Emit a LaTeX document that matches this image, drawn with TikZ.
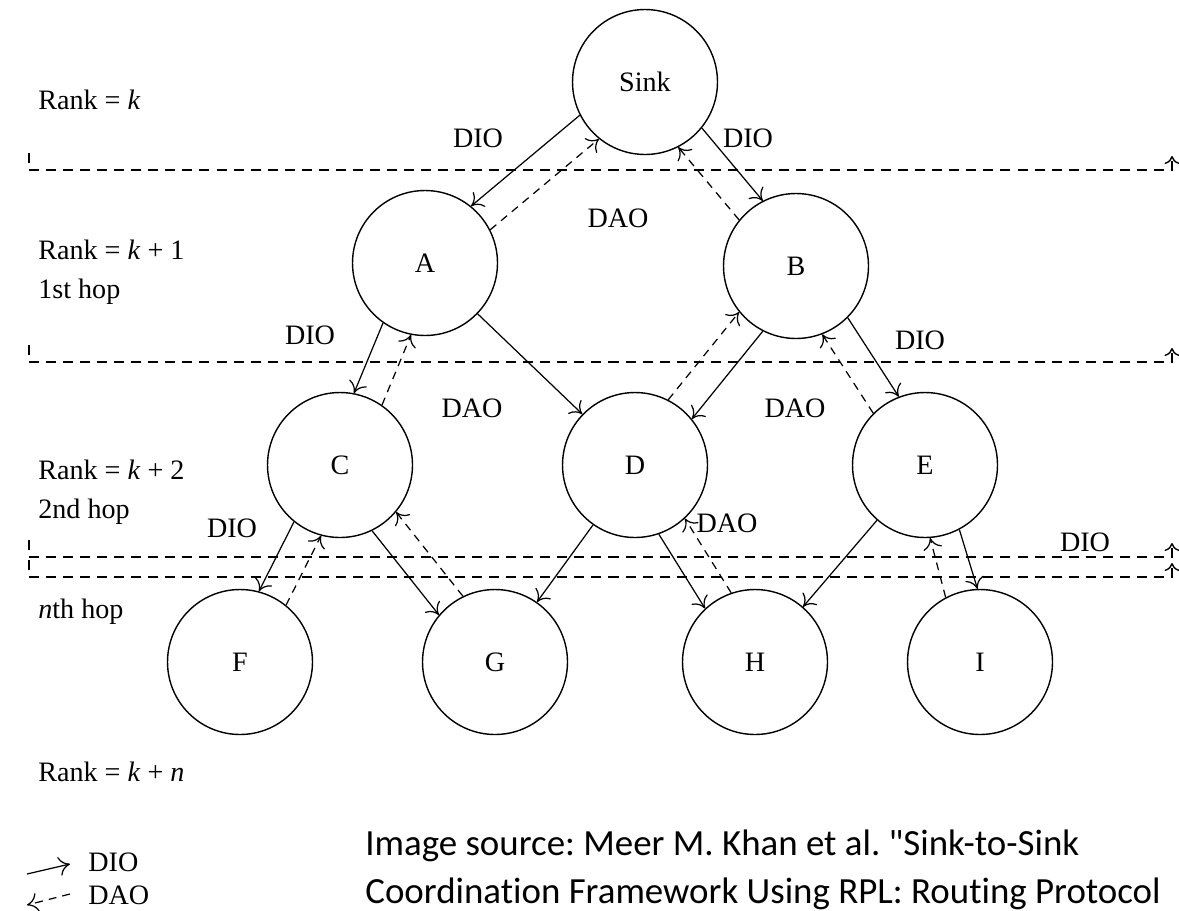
\documentclass[tikz,border=0pt]{standalone}
\usepackage{fontspec}
\setmainfont{Liberation Serif}
\newfontfamily\srcfont[Ligatures=NoCommon]{Carlito}
\usetikzlibrary{arrows.meta,positioning}
\newcommand\lblsize{\fontsize{16}{22}\selectfont}
\tikzset{
  >={To[length=2.2mm,width=3.8mm]},
  nd/.style   ={circle,draw,line width=0.8pt,minimum size=2.9cm,inner sep=0pt,font=\lblsize},
  dio/.style  ={->,line width=0.7pt},
  dao/.style  ={->,line width=0.7pt,dash pattern=on 4.5pt off 3.5pt},
  rline/.style={-{To[length=1.6mm,width=3mm]},line width=0.8pt,dash pattern=on 5.7pt off 4pt},
  lbl/.style  ={font=\lblsize,inner sep=0pt},
  rank/.style ={lbl,anchor=west,align=left},
  src/.style  ={font=\srcfont\fontsize{21}{26}\selectfont\frenchspacing,anchor=base west,inner sep=0pt},
}

\begin{document}
\begin{tikzpicture}[x=0.02cm,y=0.02cm]
\useasboundingbox (0,0) rectangle (1179,-910);
% rank separators
\draw[rline] (29,-153) |- (1172,-170) -- (1172,-156);
\draw[rline] (29,-345) |- (1172,-362) -- (1172,-348);
\draw[rline] (29,-540) |- (1172,-557) -- (1172,-543);
\draw[rline] (29,-560) |- (1172,-577) -- (1172,-563);
% rank labels
\node[rank] (rk0) at (38,-100) {Rank = \textit{k}};
\node[rank] (rk1) at (38,-272) {Rank = \textit{k} + 1\\1st hop};
\node[rank] (rk2) at (38,-492) {Rank = \textit{k} + 2\\2nd hop};
\node[rank] (rkn) at (38,-612) {\textit{n}th hop};
\node[rank] (rkk) at (38,-772) {Rank = \textit{k} + \textit{n}};
% tree
\node[nd] (sink) at (645,-82)  {Sink};
\node[nd] (a)    at (425,-263) {A};
\node[nd] (b)    at (796,-266) {B};
\node[nd] (c)    at (340,-465) {C};
\node[nd] (d)    at (635,-465) {D};
\node[nd] (e)    at (925,-465) {E};
\node[nd] (f)    at (240,-662) {F};
\node[nd] (g)    at (495,-662) {G};
\node[nd] (h)    at (755,-662) {H};
\node[nd] (i)    at (980,-662) {I};
% DIO down, DAO up
\draw[dio] (sink.207) -- (a.51);
\draw[dao] (a.27) -- (sink.231);
\draw[dio] (sink.321) -- (b.117);
\draw[dao] (b.141) -- (sink.297);
\draw[dio] (a.235) -- (c.79);
\draw[dao] (c.55) -- (a.259);
\draw[dio] (a.316) -- (d.136);
\draw[dio] (b.243) -- (d.39);
\draw[dao] (d.63) -- (b.219);
\draw[dio] (b.315) -- (e.111);
\draw[dao] (e.135) -- (b.291);
\draw[dio] (c.231) -- (f.75);
\draw[dao] (f.51) -- (c.255);
\draw[dio] (c.296) -- (g.140);
\draw[dao] (g.116) -- (c.320);
\draw[dio] (d.235) -- (g.55);
\draw[dio] (d.289) -- (h.133);
\draw[dao] (h.109) -- (d.313);
\draw[dio] (e.229) -- (h.49);
\draw[dio] (e.298) -- (i.92);
\draw[dao] (i.118) -- (e.274);
% message labels
\node[lbl] (m1)  at (478,-138) {DIO};
\node[lbl] (m2)  at (748,-138) {DIO};
\node[lbl] (m3)  at (618,-218) {DAO};
\node[lbl] (m4)  at (310,-335) {DIO};
\node[lbl] (m5)  at (920,-340) {DIO};
\node[lbl] (m6)  at (472,-408) {DAO};
\node[lbl] (m7)  at (795,-408) {DAO};
\node[lbl] (m8)  at (232,-528) {DIO};
\node[lbl] (m9)  at (727,-523) {DAO};
\node[lbl] (m10) at (1085,-542) {DIO};
% legend
\coordinate (lgA) at (27,-874);
\coordinate (lgB) at (70,-864);
\coordinate (lgC) at (70,-894);
\coordinate (lgD) at (27,-905);
\draw[dio] (lgA) -- (lgB);
\draw[dao] (lgC) -- (lgD);
\node[lbl,anchor=west] (lgDio) at (88,-862) {DIO};
\node[lbl,anchor=west] (lgDao) at (88,-895) {DAO};
% source
\node[src] (src1) at (365,-855) {Image source: Meer M. Khan et al. "Sink-to-Sink};
\node[src] (src2) at (365,-903) {Coordination Framework Using RPL: Routing Protocol};
\end{tikzpicture}
\end{document}
